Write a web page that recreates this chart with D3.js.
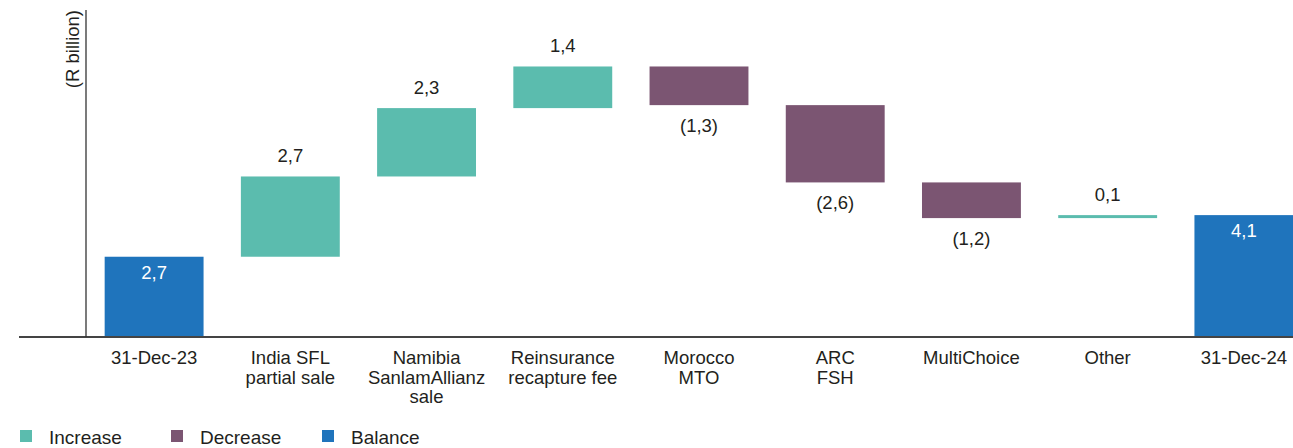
<!DOCTYPE html>
<html>
<head>
<meta charset="utf-8">
<script src="https://cdn.jsdelivr.net/npm/d3@7"></script>
<style>
  body { margin: 0; background: #fff; }
  svg text { font-family: "Liberation Sans", Arial, sans-serif; fill: #231f20; }
</style>
</head>
<body>
<div id="chart"></div>
<script>
// waterfall data (R billion)
var categories = ["31-Dec-23", "India SFL|partial sale", "Namibia|SanlamAllianz|sale", "Reinsurance|recapture fee",
                  "Morocco|MTO", "ARC|FSH", "MultiChoice", "Other", "31-Dec-24"];
var values = [2.7, 2.7, 2.3, 1.4, -1.3, -2.6, -1.2, 0.1, 4.1];
var kinds = ["balance", "increase", "increase", "increase", "decrease", "decrease", "decrease", "increase", "balance"];
var valueLabels = ["2,7", "2,7", "2,3", "1,4", "(1,3)", "(2,6)", "(1,2)", "0,1", "4,1"];
var legendItems = ["Increase", "Decrease", "Balance"];

var colors = { increase: "#5bbcae", decrease: "#7b5572", balance: "#1f74bc" };

var width = 1293, height = 448;
var svg = d3.select("#chart").append("svg")
  .attr("width", width)
  .attr("height", height);

// build start/end for each step
var running = 0;
var bars = categories.map(function(c, i) {
  var start, end;
  if (kinds[i] === "balance") { start = 0; end = values[i]; running = values[i]; }
  else { start = running; end = running + values[i]; running = end; }
  return { cat: c, start: start, end: end, kind: kinds[i], label: valueLabels[i] };
});

var x = d3.scaleBand()
  .domain(categories)
  .range([86, 1312])
  .paddingInner(0.274)
  .paddingOuter(0.137);

var y = d3.scaleLinear()
  .domain([0, 11])
  .range([337, 10]);

// bars
svg.selectAll(".bar")
  .data(bars)
  .enter().append("rect")
    .attr("class", "bar")
    .attr("x", function(d) { return x(d.cat); })
    .attr("width", x.bandwidth())
    .attr("y", function(d) { return y(Math.max(d.start, d.end)); })
    .attr("height", function(d) { return Math.abs(y(d.start) - y(d.end)); })
    .attr("fill", function(d) { return colors[d.kind]; });

// value labels
svg.selectAll(".val")
  .data(bars)
  .enter().append("text")
    .attr("class", "val")
    .attr("x", function(d) { return x(d.cat) + x.bandwidth() / 2; })
    .attr("y", function(d) {
      if (d.kind === "balance") return y(d.end) + 22;
      if (d.kind === "decrease") return y(d.end) + 27;
      return y(d.end) - 14;
    })
    .attr("text-anchor", "middle")
    .style("font-size", "18.5px")
    .style("fill", function(d) { return d.kind === "balance" ? "#fff" : "#231f20"; })
    .text(function(d) { return d.label; });

// axes lines
svg.append("line")
  .attr("x1", 19).attr("x2", width)
  .attr("y1", y(0)).attr("y2", y(0))
  .attr("stroke", "#444").attr("stroke-width", 2);
svg.append("line")
  .attr("x1", 86).attr("x2", 86)
  .attr("y1", y(11)).attr("y2", y(0))
  .attr("stroke", "#333").attr("stroke-width", 1.3);

svg.append("text")
  .attr("transform", "translate(79,10) rotate(-90)")
  .attr("text-anchor", "end")
  .style("font-size", "18.5px")
  .text("(R billion)");

// category labels
svg.selectAll(".cat")
  .data(categories)
  .enter().append("text")
    .attr("class", "cat")
    .attr("text-anchor", "middle")
    .attr("x", function(d) { return x(d) + x.bandwidth() / 2; })
    .attr("y", 364)
    .style("font-size", "18.5px")
    .each(function(d) {
      var lines = d.split("|");
      var t = d3.select(this);
      lines.forEach(function(l, k) {
        t.append("tspan")
          .attr("x", x(d) + x.bandwidth() / 2)
          .attr("dy", k === 0 ? 0 : 19.5)
          .text(l);
      });
    });

// legend
var legendX = [20, 171, 322];
var legend = svg.selectAll(".legend")
  .data(legendItems)
  .enter().append("g")
    .attr("class", "legend")
    .attr("transform", function(d, i) { return "translate(" + legendX[i] + ",430)"; });
legend.append("rect")
  .attr("width", 12).attr("height", 12)
  .attr("fill", function(d) { return colors[d.toLowerCase()]; });
legend.append("text")
  .attr("x", 29).attr("y", 14)
  .style("font-size", "19px")
  .text(function(d) { return d; });
</script>
</body>
</html>
